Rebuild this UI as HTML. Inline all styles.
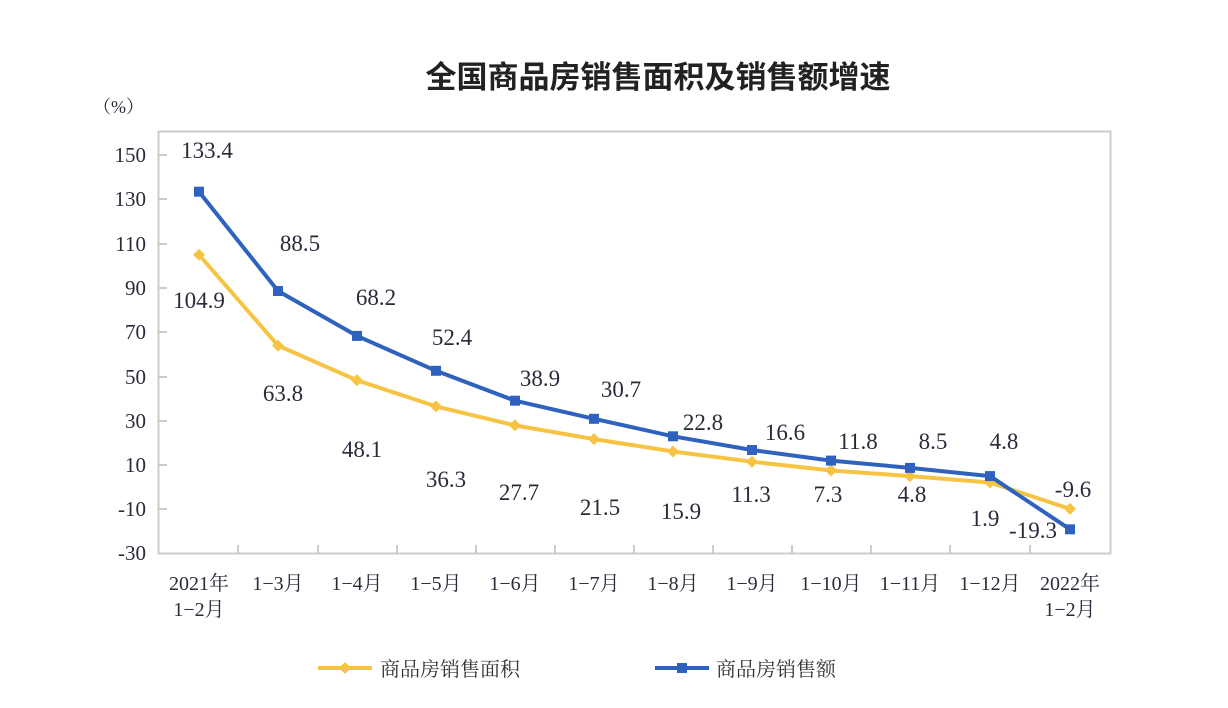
<!DOCTYPE html>
<html><head><meta charset="utf-8"><style>
html,body{margin:0;padding:0;background:#fff;}
svg{display:block;}
.c{font-family:"Liberation Serif","Noto Serif CJK SC",serif;fill:#2a2a3a;}
</style></head><body>
<svg width="1228" height="708" viewBox="0 0 1228 708" xmlns="http://www.w3.org/2000/svg">
<text x="658" y="88" text-anchor="middle" font-family="'Noto Sans CJK SC',sans-serif" font-weight="bold" font-size="31" fill="#222">全国商品房销售面积及销售额增速</text>
<text x="93" y="113" class="c" font-size="18">（%）</text>
<rect x="158.5" y="131.5" width="952" height="422" fill="none" stroke="#ccc" stroke-width="2"/>
<g stroke="#bbb" stroke-width="1.5">
<line x1="159" y1="155" x2="167" y2="155"/><line x1="159" y1="199" x2="167" y2="199"/><line x1="159" y1="244" x2="167" y2="244"/><line x1="159" y1="288" x2="167" y2="288"/><line x1="159" y1="332" x2="167" y2="332"/><line x1="159" y1="377" x2="167" y2="377"/><line x1="159" y1="421" x2="167" y2="421"/><line x1="159" y1="465" x2="167" y2="465"/><line x1="159" y1="509" x2="167" y2="509"/>
<line x1="238" y1="553" x2="238" y2="545"/><line x1="318" y1="553" x2="318" y2="545"/><line x1="397" y1="553" x2="397" y2="545"/><line x1="476" y1="553" x2="476" y2="545"/><line x1="555" y1="553" x2="555" y2="545"/><line x1="634" y1="553" x2="634" y2="545"/><line x1="713" y1="553" x2="713" y2="545"/><line x1="792" y1="553" x2="792" y2="545"/><line x1="871" y1="553" x2="871" y2="545"/><line x1="950" y1="553" x2="950" y2="545"/><line x1="1030" y1="553" x2="1030" y2="545"/>
</g>
<g class="c" font-size="21" text-anchor="end">
<text x="146" y="162">150</text><text x="146" y="206">130</text><text x="146" y="251">110</text><text x="146" y="295">90</text><text x="146" y="339">70</text><text x="146" y="384">50</text><text x="146" y="428">30</text><text x="146" y="472">10</text><text x="146" y="516">-10</text><text x="146" y="560">-30</text>
</g>
<g class="c" font-size="20" text-anchor="middle">
<text x="199" y="590">2021年</text><text x="199" y="616">1−2月</text>
<text x="278" y="590">1−3月</text><text x="357" y="590">1−4月</text><text x="436" y="590">1−5月</text><text x="515" y="590">1−6月</text><text x="594" y="590">1−7月</text><text x="673" y="590">1−8月</text><text x="752" y="590">1−9月</text><text x="831" y="590">1−10月</text><text x="910" y="590">1−11月</text><text x="990" y="590">1−12月</text>
<text x="1070" y="590">2022年</text><text x="1070" y="616">1−2月</text>
</g>
<polyline fill="none" stroke="#f6c343" stroke-width="4" stroke-linejoin="round" points="199,254.7 278,345.6 357,380.3 436,406.4 515,425.4 594,439.1 673,451.5 752,461.7 831,470.5 910,476.1 990,482.5 1070,508.9"/>
<g fill="#f6c343">
<path d="M199,248.7l6,6-6,6-6-6z"/><path d="M278,339.6l6,6-6,6-6-6z"/><path d="M357,374.3l6,6-6,6-6-6z"/><path d="M436,400.4l6,6-6,6-6-6z"/><path d="M515,419.4l6,6-6,6-6-6z"/><path d="M594,433.1l6,6-6,6-6-6z"/><path d="M673,445.5l6,6-6,6-6-6z"/><path d="M752,455.7l6,6-6,6-6-6z"/><path d="M831,464.5l6,6-6,6-6-6z"/><path d="M910,470.1l6,6-6,6-6-6z"/><path d="M990,476.5l6,6-6,6-6-6z"/><path d="M1070,502.9l6,6-6,6-6-6z"/>
</g>
<polyline fill="none" stroke="#2f62bf" stroke-width="4" stroke-linejoin="round" points="199,191.7 278,291 357,335.9 436,370.8 515,400.7 594,418.8 673,436.3 752,450 831,460.6 910,467.9 990,476.1 1070,529.3"/>
<g fill="#2f62bf">
<rect x="194" y="186.7" width="10" height="10"/><rect x="273" y="286" width="10" height="10"/><rect x="352" y="330.9" width="10" height="10"/><rect x="431" y="365.8" width="10" height="10"/><rect x="510" y="395.7" width="10" height="10"/><rect x="589" y="413.8" width="10" height="10"/><rect x="668" y="431.3" width="10" height="10"/><rect x="747" y="445" width="10" height="10"/><rect x="826" y="455.6" width="10" height="10"/><rect x="905" y="462.9" width="10" height="10"/><rect x="985" y="471.1" width="10" height="10"/><rect x="1065" y="524.3" width="10" height="10"/>
</g>
<g class="c" font-size="23" text-anchor="middle">
<text x="207" y="158">133.4</text><text x="199" y="308">104.9</text>
<text x="300" y="251">88.5</text><text x="283" y="401">63.8</text>
<text x="376" y="305">68.2</text><text x="362" y="457">48.1</text>
<text x="452" y="345">52.4</text><text x="446" y="487">36.3</text>
<text x="540" y="386">38.9</text><text x="519" y="500">27.7</text>
<text x="621" y="397">30.7</text><text x="600" y="515">21.5</text>
<text x="703" y="430">22.8</text><text x="681" y="519">15.9</text>
<text x="785" y="440">16.6</text><text x="751" y="502">11.3</text>
<text x="858" y="449">11.8</text><text x="828" y="502">7.3</text>
<text x="933" y="449">8.5</text><text x="912" y="502">4.8</text>
<text x="1004" y="449">4.8</text><text x="985" y="526">1.9</text>
<text x="1033" y="538">-19.3</text><text x="1073" y="497">-9.6</text>
</g>
<line x1="318" y1="668" x2="372" y2="668" stroke="#f6c343" stroke-width="4"/>
<path d="M345,662l6,6-6,6-6-6z" fill="#f6c343"/>
<text x="380" y="676" font-family="'Noto Serif CJK SC',serif" font-size="20" fill="#333">商品房销售面积</text>
<line x1="655" y1="668" x2="709" y2="668" stroke="#2f62bf" stroke-width="4"/>
<rect x="677" y="663" width="10" height="10" fill="#2f62bf"/>
<text x="716" y="676" font-family="'Noto Serif CJK SC',serif" font-size="20" fill="#333">商品房销售额</text>
</svg>
</body></html>
